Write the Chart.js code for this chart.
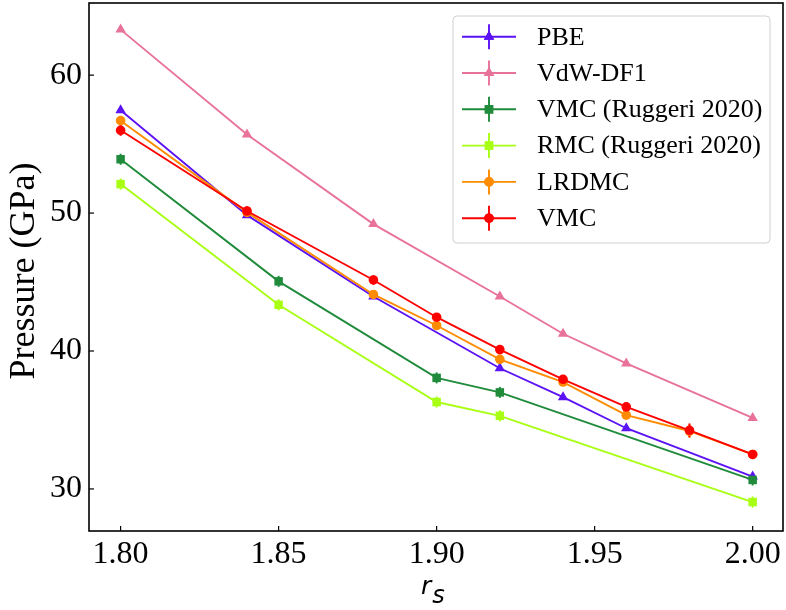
<!DOCTYPE html>
<html>
<head>
<meta charset="utf-8">
<script src="https://cdn.jsdelivr.net/npm/chart.js@4"></script>
<style>
  html, body { margin: 0; padding: 0; background: #fff; }
  #wrap { width: 786px; height: 610px; }
</style>
</head>
<body>
<div id="wrap"><canvas id="chart" width="786" height="610"></canvas></div>
<script>
// r_s values for each group of series
const rsDft = [1.80, 1.84, 1.88, 1.92, 1.94, 1.96, 2.00];
const rsRuggeri = [1.80, 1.85, 1.90, 1.92, 2.00];
const rsQmc = [1.80, 1.84, 1.88, 1.90, 1.92, 1.94, 1.96, 1.98, 2.00];

// pressures (GPa)
const pPBE = [57.45, 49.85, 43.95, 38.75, 36.65, 34.4, 30.9];
const pVdW = [63.3, 55.7, 49.2, 43.95, 41.25, 39.1, 35.15];
const pVmcRuggeri = [53.9, 45.05, 38.05, 37.0, 30.65];
const eVmcRuggeri = [0.4, 0.4, 0.4, 0.4, 0.4];
const pRmcRuggeri = [52.1, 43.35, 36.3, 35.3, 29.05];
const eRmcRuggeri = [0.4, 0.4, 0.4, 0.4, 0.4];
const pLRDMC = [56.7, 50.05, 44.1, 41.85, 39.4, 37.75, 35.35, 34.2, 32.5];
const eLRDMC = [0.2, 0.2, 0.2, 0.2, 0.2, 0.2, 0.2, 0.5, 0.2];
const pVMC = [56.0, 50.15, 45.15, 42.45, 40.1, 37.95, 35.95, 34.25, 32.5];
const eVMC = [0.4, 0.35, 0.35, 0.25, 0.25, 0.25, 0.25, 0.5, 0.25];

const xTicks = [1.80, 1.85, 1.90, 1.95, 2.00];
const yTicks = [30, 40, 50, 60];

function pts(xs, ys) {
    return xs.map((x, i) => ({ x: x, y: ys[i] }));
}

function series(label, xs, ys, errs, color, style, radius, order) {
    return {
        label: label,
        data: pts(xs, ys),
        errors: errs,
        borderColor: color,
        backgroundColor: color,
        borderWidth: 1.9,
        pointStyle: style,
        pointRadius: radius,
        pointBorderWidth: 0,
        pointBackgroundColor: color,
        fill: false,
        tension: 0,
        order: order
    };
}

const datasets = [
    series('PBE', rsDft, pPBE, null, '#5b12f5', 'triangle', 6, 6),
    series('VdW-DF1', rsDft, pVdW, null, '#e8729a', 'triangle', 6, 5),
    series('VMC (Ruggeri 2020)', rsRuggeri, pVmcRuggeri, eVmcRuggeri, '#1f8b3b', 'rect', 6, 4),
    series('RMC (Ruggeri 2020)', rsRuggeri, pRmcRuggeri, eRmcRuggeri, '#a8ff14', 'rect', 6, 3),
    series('LRDMC', rsQmc, pLRDMC, eLRDMC, '#ff8c00', 'circle', 4.8, 2),
    series('VMC', rsQmc, pVMC, eVMC, '#ff0000', 'circle', 4.8, 1)
];

// vertical error bars, drawn under the markers
const errorBars = {
    id: 'errorBars',
    beforeDatasetsDraw(chart) {
        const ctx = chart.ctx;
        const ys = chart.scales.y;
        chart.data.datasets.forEach((ds, i) => {
            if (!ds.errors) return;
            const meta = chart.getDatasetMeta(i);
            ctx.save();
            ctx.strokeStyle = ds.borderColor;
            ctx.lineWidth = 1.9;
            meta.data.forEach((el, j) => {
                const v = ds.data[j].y;
                const e = ds.errors[j];
                ctx.beginPath();
                ctx.moveTo(el.x, ys.getPixelForValue(v - e));
                ctx.lineTo(el.x, ys.getPixelForValue(v + e));
                ctx.stroke();
            });
            ctx.restore();
        });
    }
};

function drawMarker(ctx, style, x, y, r, color) {
    ctx.fillStyle = color;
    Chart.helpers.drawPoint(ctx, { pointStyle: style, radius: r, borderWidth: 0 }, x, y);
    ctx.fill();
}

// frame, inward ticks, axis titles and legend
const decorations = {
    id: 'decorations',
    afterDraw(chart) {
        const ctx = chart.ctx;
        const a = chart.chartArea;
        const xs = chart.scales.x, ys = chart.scales.y;
        ctx.save();
        ctx.strokeStyle = '#000';
        ctx.lineWidth = 1.6;
        ctx.strokeRect(a.left, a.top, a.right - a.left, a.bottom - a.top);

        ctx.lineWidth = 1.2;
        xTicks.forEach(v => {
            const px = xs.getPixelForValue(v);
            ctx.beginPath();
            ctx.moveTo(px, a.bottom);
            ctx.lineTo(px, a.bottom - 5);
            ctx.stroke();
        });
        yTicks.forEach(v => {
            const py = ys.getPixelForValue(v);
            ctx.beginPath();
            ctx.moveTo(a.left, py);
            ctx.lineTo(a.left + 5, py);
            ctx.stroke();
        });

        // y title
        ctx.fillStyle = '#000';
        ctx.font = '36px "Liberation Serif"';
        ctx.textAlign = 'center';
        ctx.textBaseline = 'middle';
        ctx.translate(25, 271);
        ctx.rotate(-Math.PI / 2);
        ctx.fillText('Pressure (GPa)', 0, 0);
        ctx.restore();

        // x title r_s
        ctx.save();
        ctx.fillStyle = '#000';
        ctx.textBaseline = 'alphabetic';
        ctx.textAlign = 'left';
        ctx.font = 'italic 25px "DejaVu Sans"';
        ctx.fillText('r', 421, 594);
        const rw = ctx.measureText('r').width;
        ctx.font = 'italic 24px "DejaVu Sans"';
        ctx.fillText('s', 421 + rw + 1, 603);
        ctx.restore();

        // legend
        ctx.save();
        const lx = 453, ly = 16, lw = 317, lh = 227;
        ctx.fillStyle = 'rgba(255,255,255,0.85)';
        ctx.strokeStyle = '#d0d0d0';
        ctx.lineWidth = 1;
        ctx.beginPath();
        ctx.roundRect(lx, ly, lw, lh, 4);
        ctx.fill();
        ctx.stroke();
        chart.data.datasets.forEach((ds, i) => {
            const cy = 36.7 + i * 36.3;
            ctx.strokeStyle = ds.borderColor;
            ctx.lineWidth = 1.9;
            ctx.beginPath();
            ctx.moveTo(462, cy);
            ctx.lineTo(516, cy);
            ctx.moveTo(489, cy - 12.5);
            ctx.lineTo(489, cy + 12.5);
            ctx.stroke();
            drawMarker(ctx, ds.pointStyle, 489, cy, ds.pointRadius, ds.borderColor);
            ctx.fillStyle = '#000';
            ctx.font = '26px "Liberation Serif"';
            ctx.textAlign = 'left';
            ctx.textBaseline = 'middle';
            ctx.fillText(ds.label, 537, cy + 1);
        });
        ctx.restore();
    }
};

const ctx = document.getElementById('chart').getContext('2d');
new Chart(ctx, {
    type: 'line',
    data: { datasets: datasets },
    options: {
        responsive: false,
        animation: false,
        layout: { autoPadding: false, padding: { left: 0, right: 3, top: 3, bottom: 0 } },
        plugins: {
            legend: { display: false },
            tooltip: { enabled: false }
        },
        scales: {
            x: {
                type: 'linear',
                min: 1.79,
                max: 2.0096,
                afterBuildTicks: scale => { scale.ticks = xTicks.map(v => ({ value: v })); },
                afterFit: scale => {
                    scale.height = 79;
                    scale.paddingLeft = 0;
                    scale.paddingRight = 0;
                },
                grid: { display: false, drawTicks: false },
                border: { display: false },
                ticks: {
                    padding: 4,
                    color: '#000',
                    font: { family: 'Liberation Serif', size: 32 },
                    maxRotation: 0,
                    callback: v => Number(v).toFixed(2)
                }
            },
            y: {
                type: 'linear',
                min: 26.95,
                max: 65.23,
                afterBuildTicks: scale => { scale.ticks = yTicks.map(v => ({ value: v })); },
                afterFit: scale => {
                    scale.width = 89;
                    scale.paddingTop = 0;
                    scale.paddingBottom = 0;
                },
                grid: { display: false, drawTicks: false },
                border: { display: false },
                ticks: {
                    padding: 7,
                    color: '#000',
                    font: { family: 'Liberation Serif', size: 32 },
                    callback: v => String(v)
                }
            }
        }
    },
    plugins: [errorBars, decorations]
});
</script>
</body>
</html>
